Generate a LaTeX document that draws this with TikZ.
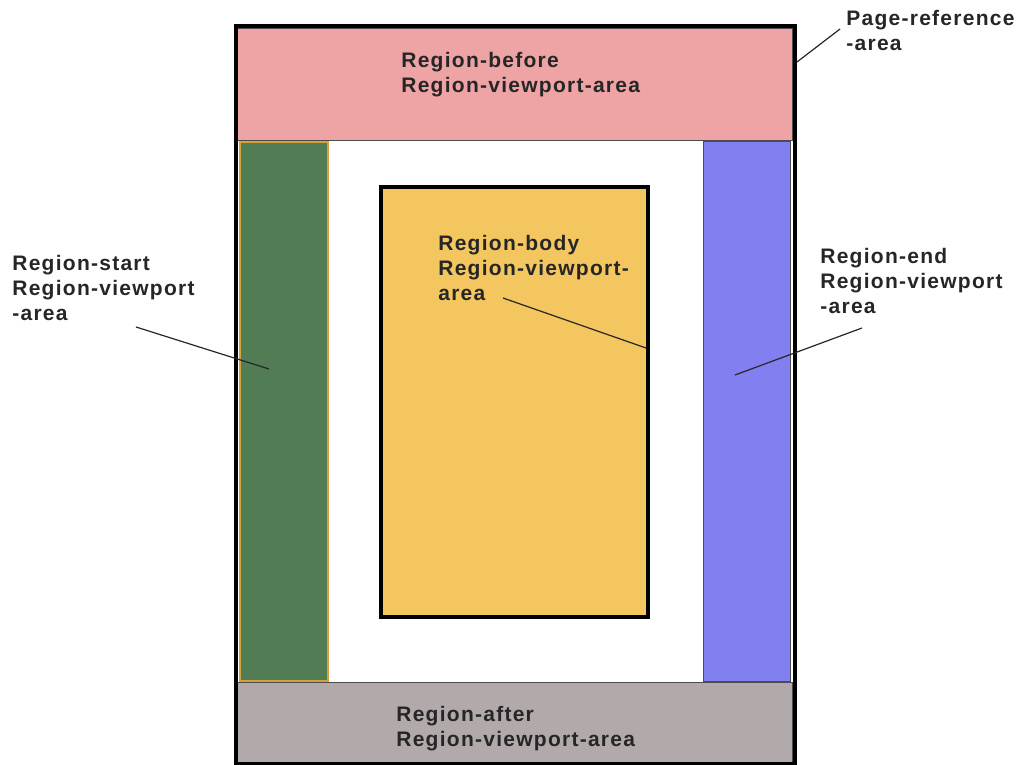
\documentclass[tikz,border=0pt]{standalone}
\usepackage{fontspec}
\setmainfont{Liberation Sans}[LetterSpace=6]
\begin{document}
\begin{tikzpicture}[x=0.5pt,y=-0.5pt,
  lbl/.style={font=\bfseries\fontsize{10.5}{12.5}\selectfont, align=left, inner sep=0pt, anchor=north west, text=black!85},
  leader/.style={draw=black!85, line width=0.6pt},
  region/.style={draw=black!70, line width=0.4pt}]
\useasboundingbox (0,0) rectangle (1018,765);
\definecolor{pinkf}{RGB}{238,164,164}
\definecolor{greenf}{RGB}{82,124,84}
\definecolor{bluef}{RGB}{130,128,240}
\definecolor{greyf}{RGB}{178,170,170}
\definecolor{yellowf}{RGB}{244,198,96}
\definecolor{orangeb}{RGB}{214,160,60}
% regions
\path[region, fill=pinkf] (237,28) rectangle (792,140);
\path[draw=orangeb, line width=0.6pt, fill=greenf] (240,142) rectangle (328,681);
\path[region, fill=bluef] (703,141) rectangle (790,681);
\path[region, fill=greyf] (236,682) rectangle (792,763);
\path[draw=black, line width=2pt, fill=yellowf] (381,187) rectangle (648,617);
% page reference area
\path[draw=black, line width=2.2pt] (236,26) rectangle (795,764);
\coordinate (pageR) at (797,62);
% labels
\node[lbl] (before) at (401,52) {Region-before\\Region-viewport-area};
\node[lbl] (after) at (396,706) {Region-after\\Region-viewport-area};
\node[lbl] (pageref) at (846,10) {Page-reference\\-area};
\node[lbl] (start) at (12,255) {Region-start\\Region-viewport\\-area};
\node[lbl] (endl) at (820,248) {Region-end\\Region-viewport\\-area};
\node[lbl] (body) at (438,235) {Region-body\\Region-viewport-\\area};
% leaders
\coordinate (pageA) at (840,29);
\coordinate (startA) at (136,327);
\coordinate (startB) at (269,369);
\coordinate (endA) at (862,328);
\coordinate (endB) at (735,375);
\coordinate (bodyA) at (503,298);
\coordinate (bodyB) at (646,348);
\draw[leader] (pageA) -- (pageR);
\draw[leader] (startA) -- (startB);
\draw[leader] (endA) -- (endB);
\draw[leader] (bodyA) -- (bodyB);
\end{tikzpicture}
\end{document}
